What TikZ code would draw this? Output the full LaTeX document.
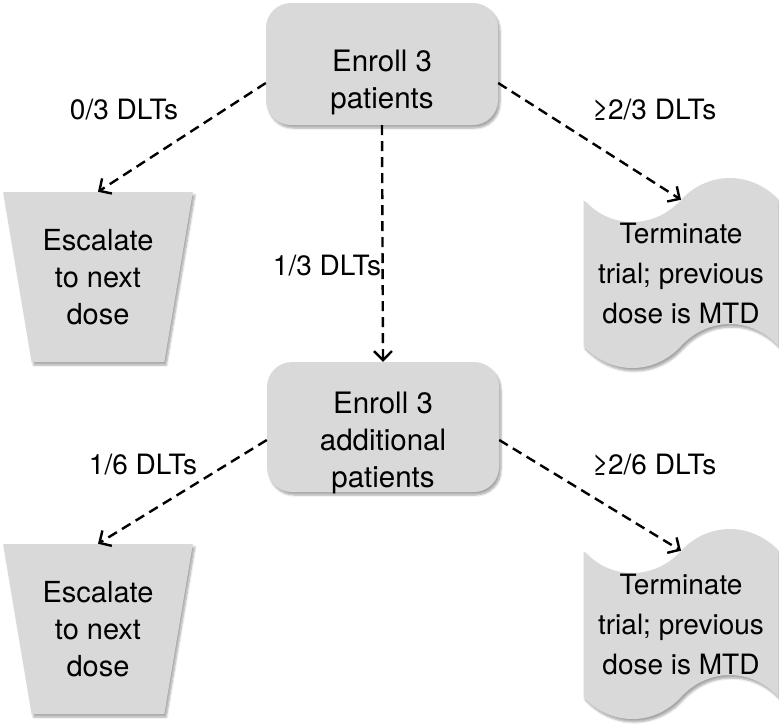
\documentclass[tikz,border=0pt]{standalone}
\usepackage{fontspec}
\setmainfont{TeX Gyre Heros}
\usepackage{tikz}
\usetikzlibrary{shapes.geometric, shapes.symbols, arrows.meta, shadows.blur}
\definecolor{boxgray}{HTML}{D9D9D9}
\tikzset{
every picture/.style={x=1pt, y=1pt},
shade/.style={blur shadow={shadow xshift=2pt, shadow yshift=-3pt, shadow opacity=35, shadow blur steps=6}},
enrollbox/.style={rectangle, rounded corners=25pt, fill=boxgray, shade, minimum width=232pt},
boxtext/.style={align=center, font=\fontsize{29.5}{37}\selectfont},
escalatebox/.style={trapezium, trapezium stretches=true, shape border rotate=180, trapezium left angle=76, trapezium right angle=76, fill=boxgray, shade, minimum width=190pt, minimum height=170pt, align=center, inner sep=0pt, font=\fontsize{29}{37}\selectfont},
terminatebox/.style={tape, tape bend top=in and out, tape bend bottom=in and out, tape bend height=44pt, fill=boxgray, shade, minimum width=195pt, minimum height=190pt, inner sep=0pt, align=center, font=\fontsize{28}{40}\selectfont},
dlt/.style={font=\fontsize{28}{32}\selectfont},
flow/.style={line width=2.4pt, dash pattern=on 10pt off 6pt, -{Straight Barb[length=9pt, width=18pt, line width=2.4pt]}}
}

\begin{document}
\begin{tikzpicture}
  \useasboundingbox (0,0) rectangle (779,-726);
  \node[enrollbox, minimum height=122pt] (enroll1) at (382,-64) {};
  \node[boxtext] (enroll1text) at ([yshift=-18pt]enroll1.center) {Enroll 3\\patients};
  \node[enrollbox, minimum height=130pt] (enroll2) at (383,-427) {};
  \node[boxtext] (enroll2text) at ([yshift=-16pt]enroll2.center) {Enroll 3\\additional\\patients};
  \node[escalatebox] (escalate1) at (98,-277) {Escalate\\to next\\dose};
  \node[escalatebox] (escalate2) at (98,-629) {Escalate\\to next\\dose};
  \node[terminatebox] (terminate1) at (681,-273) {Terminate\\trial; previous\\dose is MTD};
  \node[terminatebox] (terminate2) at (681,-624) {Terminate\\trial; previous\\dose is MTD};

  \node[dlt] (lbl03) at (124,-110) {0/3 DLTs};
  \node[dlt] (lbl23) at (654,-110) {≥2/3 DLTs};
  \node[dlt] (lbl13) at (327,-266) {1/3 DLTs};
  \node[dlt] (lbl16) at (143,-465) {1/6 DLTs};
  \node[dlt] (lbl26) at (654,-465) {≥2/6 DLTs};

  \draw[flow] ([yshift=-19pt]enroll1.west) -- (escalate1.north);
  \draw[flow] ([yshift=-19pt]enroll1.east) -- (terminate1.north);
  \draw[flow] (enroll1.south) -- (enroll2.north);
  \draw[flow] ([yshift=-13pt]enroll2.west) -- (escalate2.north);
  \draw[flow] ([yshift=-13pt]enroll2.east) -- (terminate2.north);
\end{tikzpicture}
\end{document}
